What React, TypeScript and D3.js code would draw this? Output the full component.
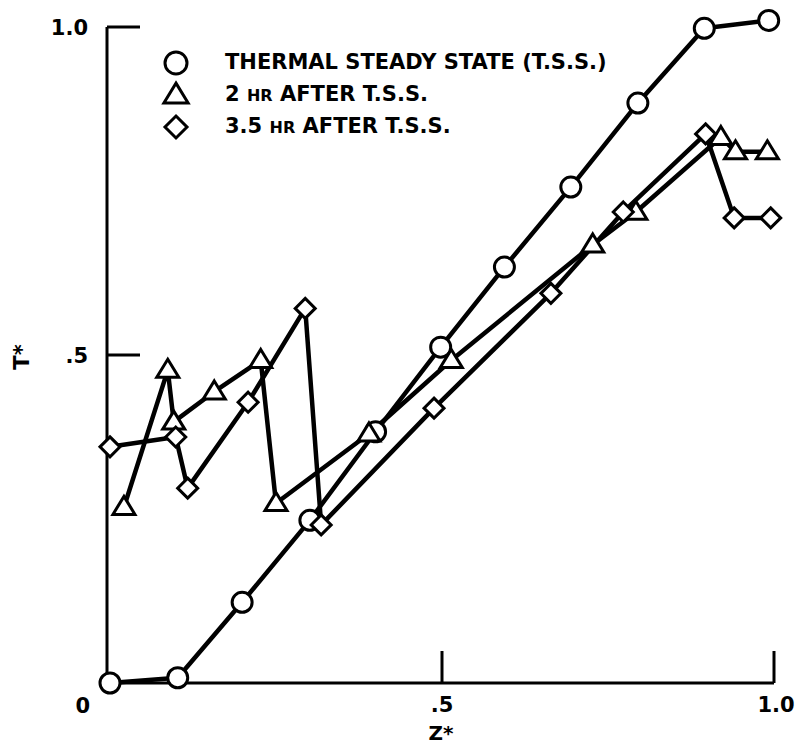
import * as d3 from "d3"

// T.S.S. (circles)
const tssZ = [0, 0.102, 0.199, 0.301, 0.4, 0.498, 0.594, 0.694, 0.795, 0.895, 0.992]
const tssT = [0.0, 0.008, 0.123, 0.248, 0.383, 0.512, 0.634, 0.756, 0.884, 0.998, 1.01]

// 2 hr after T.S.S. (triangles)
const hr2Z = [0.021, 0.087, 0.096, 0.157, 0.227, 0.25, 0.39, 0.514, 0.727, 0.792, 0.92, 0.942, 0.99]
const hr2T = [0.268, 0.477, 0.398, 0.444, 0.492, 0.274, 0.38, 0.492, 0.668, 0.718, 0.832, 0.81, 0.81]

// 3.5 hr after T.S.S. (diamonds)
const hr35Z = [0, 0.099, 0.117, 0.208, 0.294, 0.318, 0.488, 0.664, 0.773, 0.897, 0.94, 0.995]
const hr35T = [0.36, 0.375, 0.297, 0.428, 0.571, 0.241, 0.419, 0.594, 0.718, 0.837, 0.709, 0.709]

const xTicks = [0.5, 1.0]
const xTickLabels = [".5", "1.0"]
const yTicks = [0.5, 1.0]
const yTickLabels = [".5", "1.0"]

const legendLabels = [
  ["THERMAL STEADY STATE (T.S.S.)"],
  ["2 ", "HR", " AFTER T.S.S."],
  ["3.5 ", "HR", " AFTER T.S.S."],
]

const FONT = "'DejaVu Sans', sans-serif"

function Marker({ kind, x, y, size = 1 }: { kind: string; x: number; y: number; size?: number }) {
  if (kind === "circle") {
    return <circle cx={x} cy={y} r={10 * size} fill="#fff" stroke="#000" strokeWidth={3} />
  }
  if (kind === "triangle") {
    const w = 11 * size
    const h = 18 * size
    return (
      <path
        d={`M${x},${y - h * 0.6} L${x + w},${y + h * 0.4} L${x - w},${y + h * 0.4} Z`}
        fill="#fff"
        stroke="#000"
        strokeWidth={3}
      />
    )
  }
  const s = 10 * size
  return (
    <path
      d={`M${x},${y - s} L${x + s},${y} L${x},${y + s} L${x - s},${y} Z`}
      fill="#fff"
      stroke="#000"
      strokeWidth={3}
    />
  )
}

export default function App() {
  const width = 797
  const height = 746

  const x = d3.scaleLinear().domain([0, 1]).range([110, 774])
  const y = d3.scaleLinear().domain([0, 1]).range([683, 27])

  const line = d3
    .line<[number, number]>()
    .x((d) => x(d[0]))
    .y((d) => y(d[1]))

  const series = [
    { kind: "circle", pts: tssZ.map((z, i) => [z, tssT[i]] as [number, number]) },
    { kind: "triangle", pts: hr2Z.map((z, i) => [z, hr2T[i]] as [number, number]) },
    { kind: "diamond", pts: hr35Z.map((z, i) => [z, hr35T[i]] as [number, number]) },
  ]

  const axisX0 = 107

  return (
    <svg
      width={width}
      height={height}
      style={{ position: "absolute", left: 0, top: 0, background: "#fff" }}
      fontFamily={FONT}
    >
      {/* axes */}
      <g stroke="#000" strokeWidth={3} fill="none">
        <line x1={axisX0} y1={y(1)} x2={axisX0} y2={y(0)} />
        <line x1={axisX0} y1={y(0)} x2={x(1)} y2={y(0)} />
        {yTicks.map((t) => (
          <line key={"yt" + t} x1={axisX0} y1={y(t)} x2={axisX0 + 33} y2={y(t)} />
        ))}
        {xTicks.map((t) => (
          <line key={"xt" + t} x1={x(t)} y1={y(0)} x2={x(t)} y2={y(0) - 32} />
        ))}
      </g>

      {/* tick labels */}
      <g fontSize={21} fontWeight="bold" fill="#000">
        {yTicks.map((t, i) => (
          <text key={"yl" + t} x={88} y={y(t) + 8} textAnchor="end">
            {yTickLabels[i]}
          </text>
        ))}
        <text x={90} y={713} textAnchor="end">0</text>
        {xTicks.map((t, i) => (
          <text key={"xl" + t} x={x(t) + (t === 1 ? 2 : 0)} y={712} textAnchor="middle">
            {xTickLabels[i]}
          </text>
        ))}
        <text x={441} y={740} fontSize={20} textAnchor="middle">Z*</text>
        <text transform="translate(29,357) rotate(-90)" textAnchor="middle">T*</text>
      </g>

      {/* data lines */}
      {series.map((s) => (
        <path key={s.kind} d={line(s.pts) || ""} fill="none" stroke="#000" strokeWidth={4.5} strokeLinejoin="round" />
      ))}
      {series.map((s) =>
        s.pts.map((p, i) => <Marker key={s.kind + i} kind={s.kind} x={x(p[0])} y={y(p[1])} />)
      )}

      {/* legend */}
      <g>
        {series.map((s, i) => (
          <Marker key={"lg" + s.kind} kind={s.kind} x={176} y={63 + i * 32} size={1.1} />
        ))}
        <g fontSize={21} fontWeight="bold" fill="#000">
          {legendLabels.map((parts, i) => (
            <text key={"lt" + i} x={225} y={69 + i * 32}>
              {parts.map((p, j) => (
                <tspan key={j} fontSize={p === "HR" ? 16 : 21}>
                  {p}
                </tspan>
              ))}
            </text>
          ))}
        </g>
      </g>
    </svg>
  )
}
